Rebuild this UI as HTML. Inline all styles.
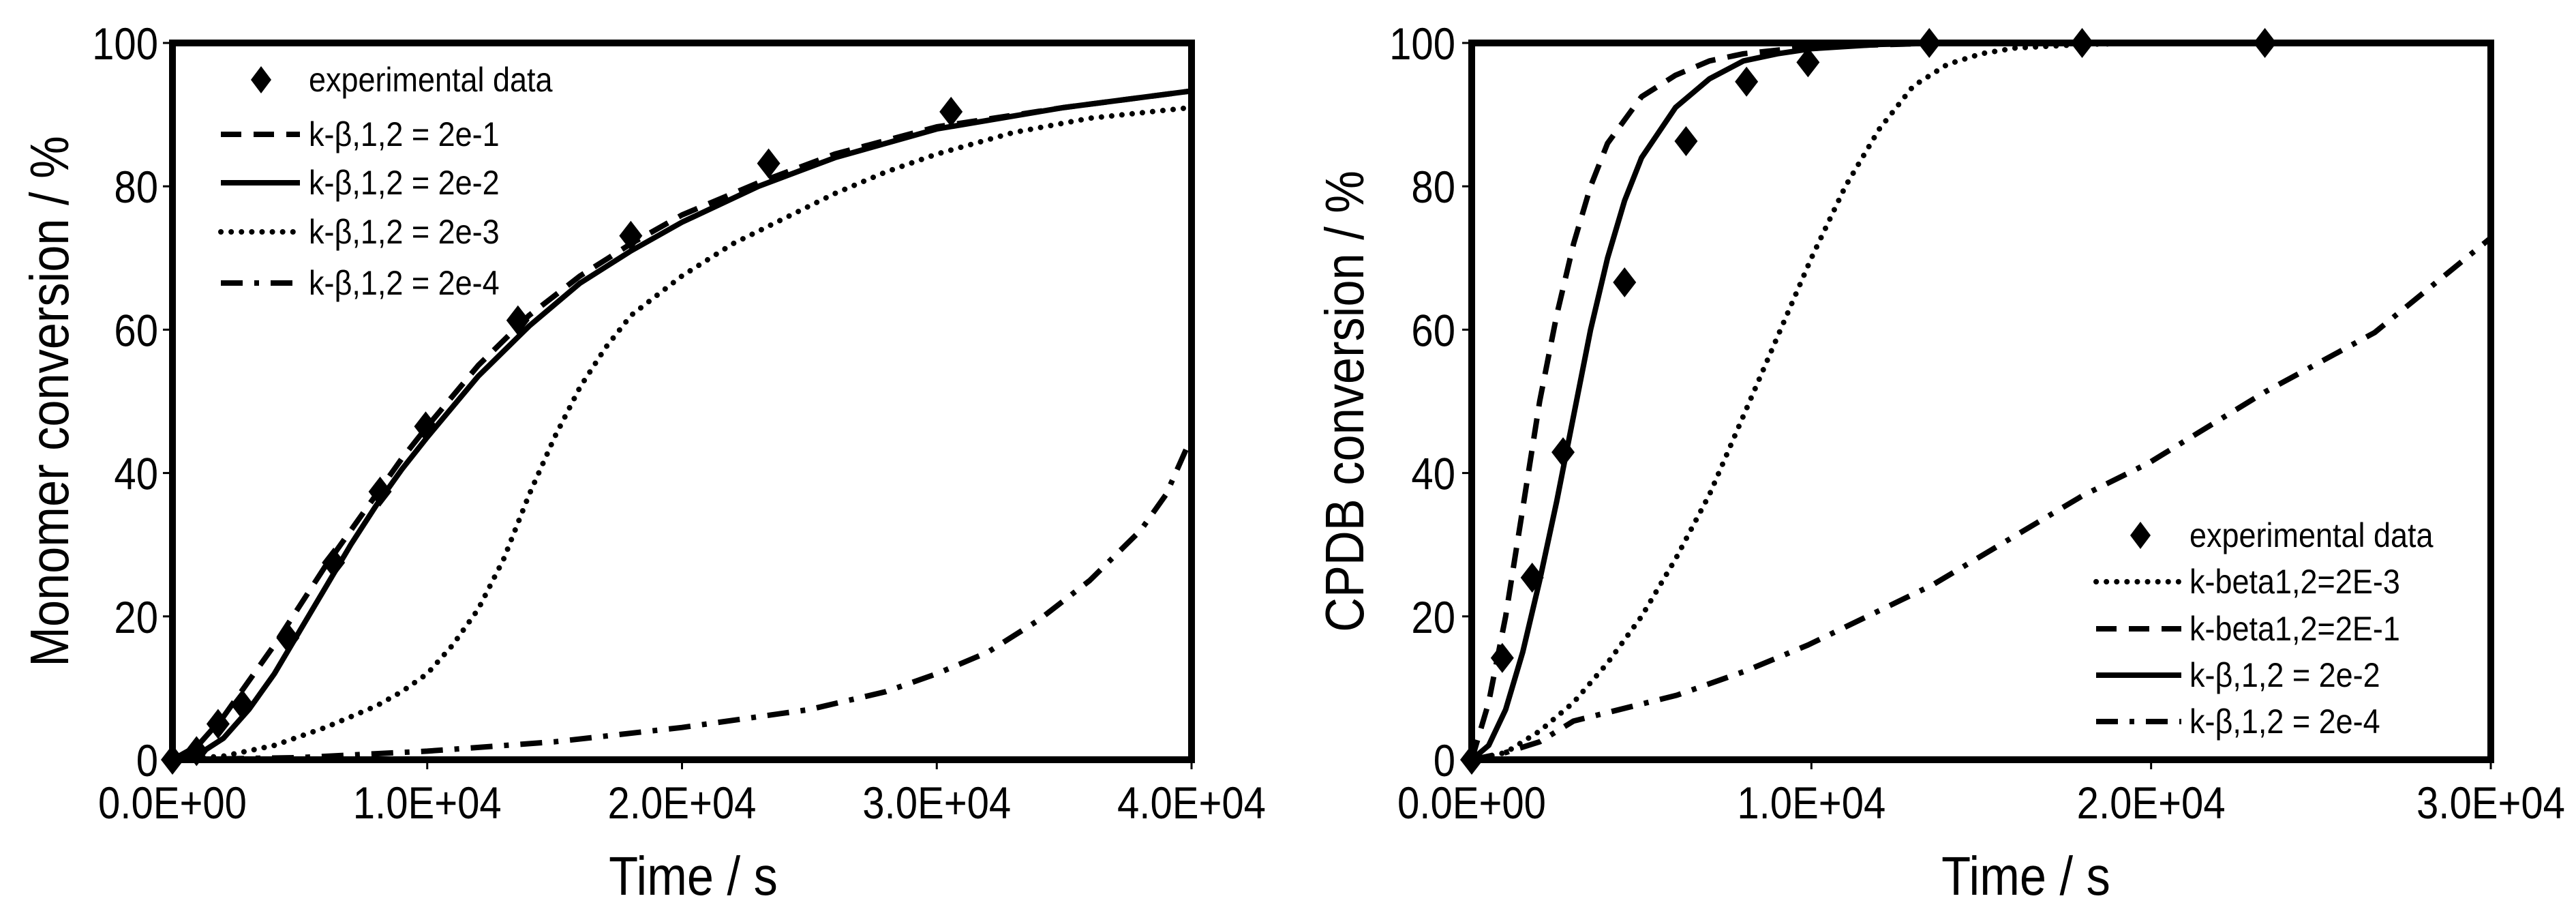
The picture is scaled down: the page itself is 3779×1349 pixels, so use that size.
<!DOCTYPE html>
<html><head><meta charset="utf-8"><style>
html,body{margin:0;padding:0;background:#fff;}
svg{display:block;font-family:"Liberation Sans",Arial,sans-serif;}
</style></head><body>
<svg id="c" width="3779" height="1349" viewBox="0 0 3779 1349" xmlns="http://www.w3.org/2000/svg"></svg>
<script>
// ---- Left chart data (Monomer conversion) ----
const L_expT = [0,945,1790,2740,4530,6320,8150,9940,13560,17990,23400,30560];
const L_expV = [0,1.2,5,7.7,17,27.5,37.4,46.5,61.3,73.1,83.2,90.4];
const L_k1T = [0,1000,2000,3000,4000,5000,6000,7000,8000,9000,10000,12000,14000,16000,18000,20000,23000,26000,30000,35000,40000];
const L_k1V = [0,2,6,11,16,21.5,27,32,37,42,46.5,55,62,67.5,72,76,80.5,84.5,88.3,91,93.3];
const L_k2T = [0,1000,2000,3000,4000,5000,6000,7000,8000,9000,10000,12000,14000,16000,18000,20000,23000,26000,30000,35000,40000];
const L_k2V = [0,0.7,3,7,12,18,24,30,35.5,40.5,45,53.5,60.5,66.5,71,75,80,84,88,91,93.3];
const L_k3T = [0,2000,4000,6000,8000,9000,10000,11000,12000,13000,14000,15000,16000,17000,18000,20000,22000,24000,26000,28000,30000,33000,36000,40000];
const L_k3V = [0,0.5,2,4.5,7.5,9.5,12,16,21,28,37,45,52,57.5,62,67.5,72,75.5,79,82,84.5,87.5,89.5,91];
const L_k4T = [0,5000,10000,15000,20000,25000,28000,30000,32000,34000,36000,38000,39000,40000];
const L_k4V = [0,0.3,1.2,2.5,4.5,7,9.5,12,15,19.5,25,32,37,45];
const L_xTicks = ["0.0E+00","1.0E+04","2.0E+04","3.0E+04","4.0E+04"];
const L_xTickVals = [0,10000,20000,30000,40000];
// ---- Right chart data (CPDB conversion) ----
const R_expT = [0,900,1780,2690,4500,6310,8090,9900,13470,17970,23350];
const R_expV = [0,14.2,25.4,42.9,66.6,86.3,94.6,97.3,100,100,100];
const R_k1T = [0,500,1000,1500,2000,2500,3000,3500,4000,5000,6000,7000,8000,10000,14000,30000];
const R_k1V = [0,8,20,35,50,62,72,80,86,92.5,95.5,97.5,98.5,99.5,100,100];
const R_k2T = [0,500,1000,1500,2000,2500,3000,3500,4000,4500,5000,6000,7000,8000,9000,10000,12000,14000,30000];
const R_k2V = [0,2,7,15,25,36,48,60,70,78,84,91,95,97.5,98.5,99.2,99.8,100,100];
const R_k3T = [0,1000,2000,3000,4000,5000,6000,7000,8000,9000,10000,11000,12000,13000,14000,15000,16000,18000,20000,30000];
const R_k3V = [0,1,4,8,13.5,20,28,37,48,59,70,80,88,94,97,98.5,99.3,99.8,100,100];
const R_k4T = [0,1000,2000,3000,6040,8070,9900,13570,17970,19930,23350,26580,30000];
const R_k4V = [0,1,2.5,5.4,9,12.4,16,24.4,36.8,41.4,51.3,59.6,72.8];
const R_xTicks = ["0.0E+00","1.0E+04","2.0E+04","3.0E+04"];
const R_xTickVals = [0,10000,20000,30000];
const yTicks = ["0","20","40","60","80","100"];
const yTickVals = [0,20,40,60,80,100];

const NS="http://www.w3.org/2000/svg";
const svg=document.getElementById('c');
function mk(tag,attrs,parent){const e=document.createElementNS(NS,tag);for(const k in attrs)e.setAttribute(k,attrs[k]);(parent||svg).appendChild(e);return e;}
const STY={
 dash:{"stroke-dasharray":"30 18"},
 solid:{},
 dot:{"stroke-dasharray":"0.1 15","stroke-linecap":"round"},
 dashdot:{"stroke-dasharray":"32 17 7 17"}
};
function txt(x,y,s,size,anchor,name,rot,sc){
 const t=mk('text',{x:0,y:0,'font-size':size,'text-anchor':anchor,fill:'#000',
  transform:`translate(${x},${y})`+(rot?` rotate(-90)`:'')+` scale(${sc||0.88},1)`});
 
 
 t.textContent=s;return t;
}
function chart(cfg){
 const g=mk('g',{});
 
 
 const X0=cfg.x0,X1=cfg.x1,Y0=1114,Y1=63;
 const sx=t=>X0+t/cfg.xmax*(X1-X0);
 const sy=v=>Y0-v/100*(Y0-Y1);
 cfg.xTickVals.forEach((v,i)=>{
  const l=mk('line',{x1:sx(v),x2:sx(v),y1:Y0,y2:Y0+14,stroke:'#000','stroke-width':3},g);
  
  
  const t=txt(sx(v),1200,cfg.xTicks[i],66,'middle','x-tick-label');g.appendChild(t);
 });
 yTickVals.forEach((v,i)=>{
  const l=mk('line',{x1:X0-14,x2:X0,y1:sy(v),y2:sy(v),stroke:'#000','stroke-width':3},g);
  
  
  const t=txt(cfg.ylabRight,sy(v)+24,yTicks[i],66,'end','y-tick-label');g.appendChild(t);
 });
 const clip=mk('clipPath',{id:cfg.name+'-clip'},g);
 mk('rect',{x:X0,y:Y1-10,width:X1-X0,height:Y0-Y1+10},clip);
 cfg.series.forEach(s=>{
  let d='';s.t.forEach((t,i)=>{d+=(i?'L':'M')+sx(t).toFixed(1)+','+sy(s.v[i]).toFixed(1);});
  const p=mk('path',Object.assign({d:d,fill:'none',stroke:'#000','stroke-width':8,'stroke-linejoin':'round','clip-path':`url(#${cfg.name}-clip)`},STY[s.style]),g);
  
  
 });
 const fr=mk('rect',{x:X0,y:Y1,width:X1-X0,height:Y0-Y1,fill:'none',stroke:'#000','stroke-width':10},g);
 
 
 cfg.expT.forEach((t,i)=>{
  const x=sx(t),y=sy(cfg.expV[i]);
  const m=mk('path',{d:`M${x},${y-22}L${x+17},${y}L${x},${y+22}L${x-17},${y}Z`,fill:'#000'},g);
  
  
 });
 g.appendChild(txt(cfg.xlabX,1312,'Time / s',80,'middle','x-axis-title'));
 g.appendChild(txt(cfg.ylabX,(Y0+Y1)/2,cfg.ytitle,80,'middle','y-axis-title',true));
 const lg=mk('g',{},g);
 
 
 cfg.legend.forEach((e,i)=>{
  const y=cfg.legY[i];
  if(e.style==='marker'){
   const mx=cfg.legMX;
   const m=mk('path',{d:`M${mx},${y-20}L${mx+15},${y}L${mx},${y+20}L${mx-15},${y}Z`,fill:'#000'},lg);
   
   
  } else {
   const l=mk('line',Object.assign({x1:cfg.legL1,x2:cfg.legL2,y1:y,y2:y,stroke:'#000','stroke-width':8},STY[e.style]),lg);
   
   
  }
  lg.appendChild(txt(cfg.legTX,y+17,e.label,50,'start','legend-entry',false,0.9));
 });
}
chart({name:'left-chart',x0:253,x1:1748,xmax:40000,xTicks:L_xTicks,xTickVals:L_xTickVals,ylabRight:232,
 ylabX:100,xlabX:1017,ytitle:'Monomer conversion / %',
 expT:L_expT,expV:L_expV,
 series:[{t:L_k1T,v:L_k1V,style:'dash',name:'series-2e-1'},{t:L_k2T,v:L_k2V,style:'solid',name:'series-2e-2'},
  {t:L_k3T,v:L_k3V,style:'dot',name:'series-2e-3'},{t:L_k4T,v:L_k4V,style:'dashdot',name:'series-2e-4'}],
 legL1:324,legL2:440,legTX:453,legMX:383,legY:[117,197,268,340,415],
 legend:[{style:'marker',label:'experimental data'},{style:'dash',label:'k-β,1,2 = 2e-1'},{style:'solid',label:'k-β,1,2 = 2e-2'},
  {style:'dot',label:'k-β,1,2 = 2e-3'},{style:'dashdot',label:'k-β,1,2 = 2e-4'}]
});
chart({name:'right-chart',x0:2159,x1:3654,xmax:30000,xTicks:R_xTicks,xTickVals:R_xTickVals,ylabRight:2135,
 ylabX:2000,xlabX:2972,ytitle:'CPDB conversion / %',
 expT:R_expT,expV:R_expV,
 series:[{t:R_k1T,v:R_k1V,style:'dash',name:'series-2E-1'},{t:R_k2T,v:R_k2V,style:'solid',name:'series-2e-2'},
  {t:R_k3T,v:R_k3V,style:'dot',name:'series-2E-3'},{t:R_k4T,v:R_k4V,style:'dashdot',name:'series-2e-4'}],
 legL1:3075,legL2:3200,legTX:3212,legMX:3140,legY:[785,853,922,990,1058],
 legend:[{style:'marker',label:'experimental data'},{style:'dot',label:'k-beta1,2=2E-3'},{style:'dash',label:'k-beta1,2=2E-1'},
  {style:'solid',label:'k-β,1,2 = 2e-2'},{style:'dashdot',label:'k-β,1,2 = 2e-4'}]
});
</script>
</body></html>
